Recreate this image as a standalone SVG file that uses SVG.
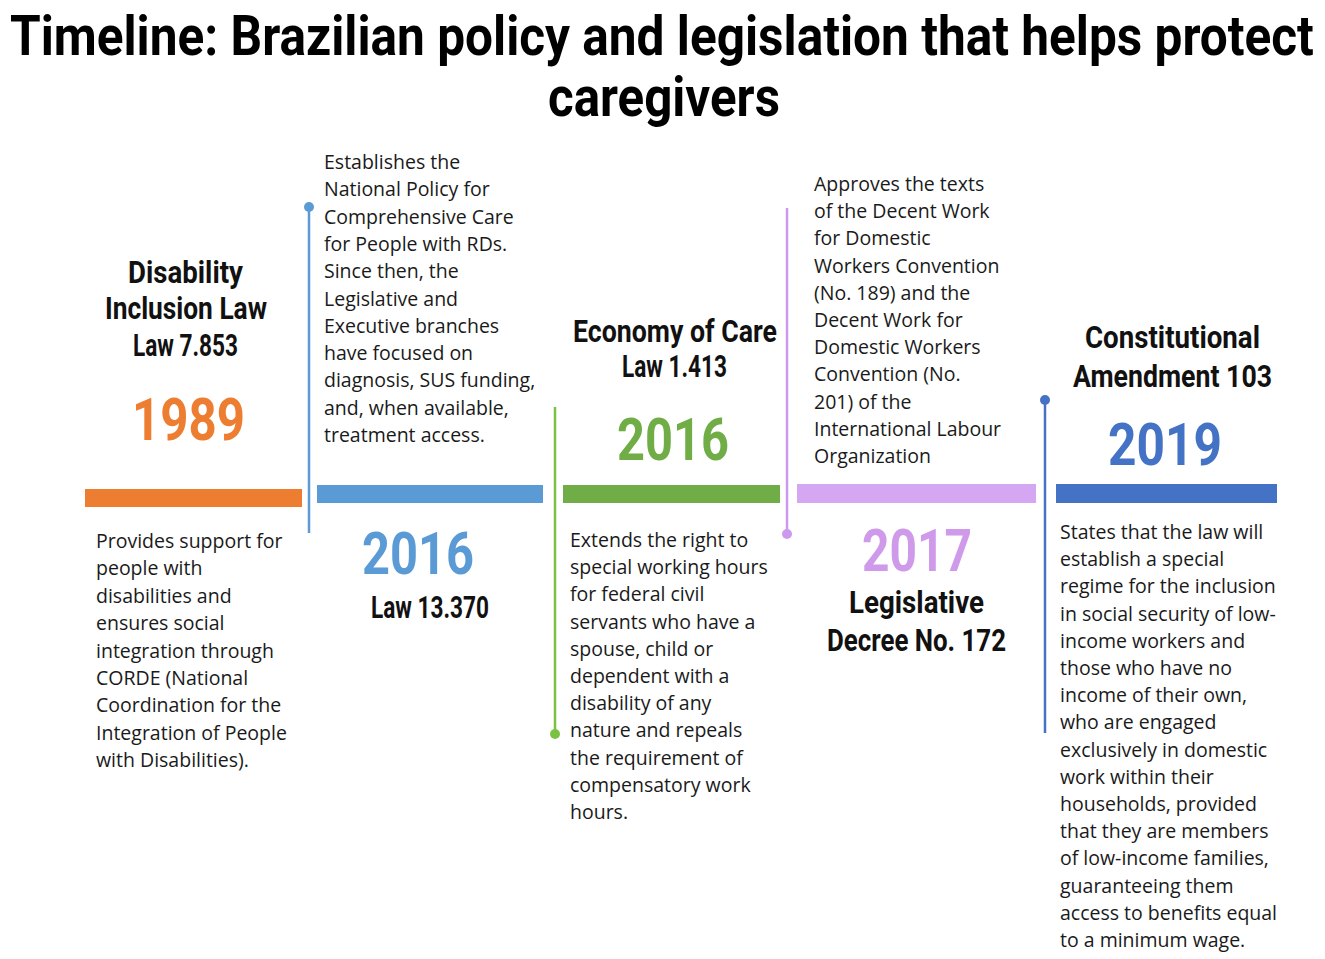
<svg xmlns="http://www.w3.org/2000/svg" width="1325" height="959" viewBox="0 0 1325 959">
<style>
.title{font-family:Roboto,"DejaVu Sans",sans-serif;font-weight:700;font-size:56px;fill:#000}
.head{font-family:Roboto,"DejaVu Sans",sans-serif;font-weight:700;font-size:31px;fill:#111}
.year{font-family:Roboto,"DejaVu Sans",sans-serif;font-weight:700;font-size:60px}
.body{font-family:"Open Sans","DejaVu Sans",sans-serif;font-size:19.5px;fill:#1a1a1a}
</style>
<rect width="1325" height="959" fill="#fff"/>
<g id="title" transform="scale(0.85,1)">
<text class="title" x="11.76" y="55" textLength="1534" lengthAdjust="spacingAndGlyphs">Timeline: Brazilian policy and legislation that helps protect</text>
<text class="title" x="644.7" y="116" textLength="272.9" lengthAdjust="spacingAndGlyphs">caregivers</text>
</g>
<g id="connectors">
<line x1="309" y1="207" x2="309" y2="533" stroke="#5B9BD5" stroke-width="2.5"/>
<circle cx="309" cy="207" r="5" fill="#5B9BD5"/>
<line x1="555" y1="407" x2="555" y2="734" stroke="#7CC242" stroke-width="2.5"/>
<circle cx="555" cy="734" r="5" fill="#7CC242"/>
<line x1="787" y1="208" x2="787" y2="534" stroke="#CC99EE" stroke-width="2.5"/>
<circle cx="787" cy="534" r="5" fill="#CC99EE"/>
<line x1="1045" y1="400" x2="1045" y2="733" stroke="#4472C4" stroke-width="2.5"/>
<circle cx="1045" cy="400" r="5" fill="#4472C4"/>
</g>
<g id="node-1989">
<rect x="85" y="489" width="217" height="18" fill="#ED7D31"/>
<text class="head" x="128" y="283" textLength="115" lengthAdjust="spacingAndGlyphs">Disability</text>
<text class="head" x="105" y="319" textLength="162" lengthAdjust="spacingAndGlyphs">Inclusion Law</text>
<text class="head" x="133" y="356" textLength="105" lengthAdjust="spacingAndGlyphs">Law 7.853</text>
<text class="year" x="132" y="440" fill="#ED7D31" textLength="113" lengthAdjust="spacingAndGlyphs">1989</text>
<text class="body" x="96" y="548">
<tspan x="96" dy="0">Provides support for</tspan>
<tspan x="96" dy="27.4">people with</tspan>
<tspan x="96" dy="27.4">disabilities and</tspan>
<tspan x="96" dy="27.4">ensures social</tspan>
<tspan x="96" dy="27.4">integration through</tspan>
<tspan x="96" dy="27.4">CORDE (National</tspan>
<tspan x="96" dy="27.4">Coordination for the</tspan>
<tspan x="96" dy="27.4">Integration of People</tspan>
<tspan x="96" dy="27.4">with Disabilities).</tspan>
</text>
</g>
<g id="node-2016-law13370">
<rect x="317" y="485" width="226" height="18" fill="#5B9BD5"/>
<text class="year" x="362" y="574" fill="#5B9BD5" textLength="112" lengthAdjust="spacingAndGlyphs">2016</text>
<text class="head" x="371" y="618" textLength="118" lengthAdjust="spacingAndGlyphs">Law 13.370</text>
<text class="body" x="324" y="169">
<tspan x="324" dy="0">Establishes the</tspan>
<tspan x="324" dy="27.3">National Policy for</tspan>
<tspan x="324" dy="27.3">Comprehensive Care</tspan>
<tspan x="324" dy="27.3">for People with RDs.</tspan>
<tspan x="324" dy="27.3">Since then, the</tspan>
<tspan x="324" dy="27.3">Legislative and</tspan>
<tspan x="324" dy="27.3">Executive branches</tspan>
<tspan x="324" dy="27.3">have focused on</tspan>
<tspan x="324" dy="27.3">diagnosis, SUS funding,</tspan>
<tspan x="324" dy="27.3">and, when available,</tspan>
<tspan x="324" dy="27.3">treatment access.</tspan>
</text>
</g>
<g id="node-2016-law1413">
<rect x="563" y="485" width="217" height="18" fill="#70AD47"/>
<text class="head" x="573" y="342" textLength="204" lengthAdjust="spacingAndGlyphs">Economy of Care</text>
<text class="head" x="622" y="377" textLength="105" lengthAdjust="spacingAndGlyphs">Law 1.413</text>
<text class="year" x="617" y="460" fill="#70AD47" textLength="112" lengthAdjust="spacingAndGlyphs">2016</text>
<text class="body" x="570" y="547">
<tspan x="570" dy="0">Extends the right to</tspan>
<tspan x="570" dy="27.2">special working hours</tspan>
<tspan x="570" dy="27.2">for federal civil</tspan>
<tspan x="570" dy="27.2">servants who have a</tspan>
<tspan x="570" dy="27.2">spouse, child or</tspan>
<tspan x="570" dy="27.2">dependent with a</tspan>
<tspan x="570" dy="27.2">disability of any</tspan>
<tspan x="570" dy="27.2">nature and repeals</tspan>
<tspan x="570" dy="27.2">the requirement of</tspan>
<tspan x="570" dy="27.2">compensatory work</tspan>
<tspan x="570" dy="27.2">hours.</tspan>
</text>
</g>
<g id="node-2017">
<rect x="797" y="484" width="239" height="19" fill="#D5A6F2"/>
<text class="year" x="862" y="571" fill="#CF9AEA" textLength="110" lengthAdjust="spacingAndGlyphs">2017</text>
<text class="head" x="849" y="613" textLength="135" lengthAdjust="spacingAndGlyphs">Legislative</text>
<text class="head" x="827" y="651" textLength="179" lengthAdjust="spacingAndGlyphs">Decree No. 172</text>
<text class="body" x="814" y="191">
<tspan x="814" dy="0">Approves the texts</tspan>
<tspan x="814" dy="27.2">of the Decent Work</tspan>
<tspan x="814" dy="27.2">for Domestic</tspan>
<tspan x="814" dy="27.2">Workers Convention</tspan>
<tspan x="814" dy="27.2">(No. 189) and the</tspan>
<tspan x="814" dy="27.2">Decent Work for</tspan>
<tspan x="814" dy="27.2">Domestic Workers</tspan>
<tspan x="814" dy="27.2">Convention (No.</tspan>
<tspan x="814" dy="27.2">201) of the</tspan>
<tspan x="814" dy="27.2">International Labour</tspan>
<tspan x="814" dy="27.2">Organization</tspan>
</text>
</g>
<g id="node-2019">
<rect x="1056" y="484" width="221" height="19" fill="#4472C4"/>
<text class="head" x="1085" y="348" textLength="175" lengthAdjust="spacingAndGlyphs">Constitutional</text>
<text class="head" x="1073" y="387" textLength="199" lengthAdjust="spacingAndGlyphs">Amendment 103</text>
<text class="year" x="1108" y="465" fill="#4472C4" textLength="114" lengthAdjust="spacingAndGlyphs">2019</text>
<text class="body" x="1060" y="539">
<tspan x="1060" dy="0">States that the law will</tspan>
<tspan x="1060" dy="27.2">establish a special</tspan>
<tspan x="1060" dy="27.2">regime for the inclusion</tspan>
<tspan x="1060" dy="27.2">in social security of low-</tspan>
<tspan x="1060" dy="27.2">income workers and</tspan>
<tspan x="1060" dy="27.2">those who have no</tspan>
<tspan x="1060" dy="27.2">income of their own,</tspan>
<tspan x="1060" dy="27.2">who are engaged</tspan>
<tspan x="1060" dy="27.2">exclusively in domestic</tspan>
<tspan x="1060" dy="27.2">work within their</tspan>
<tspan x="1060" dy="27.2">households, provided</tspan>
<tspan x="1060" dy="27.2">that they are members</tspan>
<tspan x="1060" dy="27.2">of low-income families,</tspan>
<tspan x="1060" dy="27.2">guaranteeing them</tspan>
<tspan x="1060" dy="27.2">access to benefits equal</tspan>
<tspan x="1060" dy="27.2">to a minimum wage.</tspan>
</text>
</g>
</svg>
